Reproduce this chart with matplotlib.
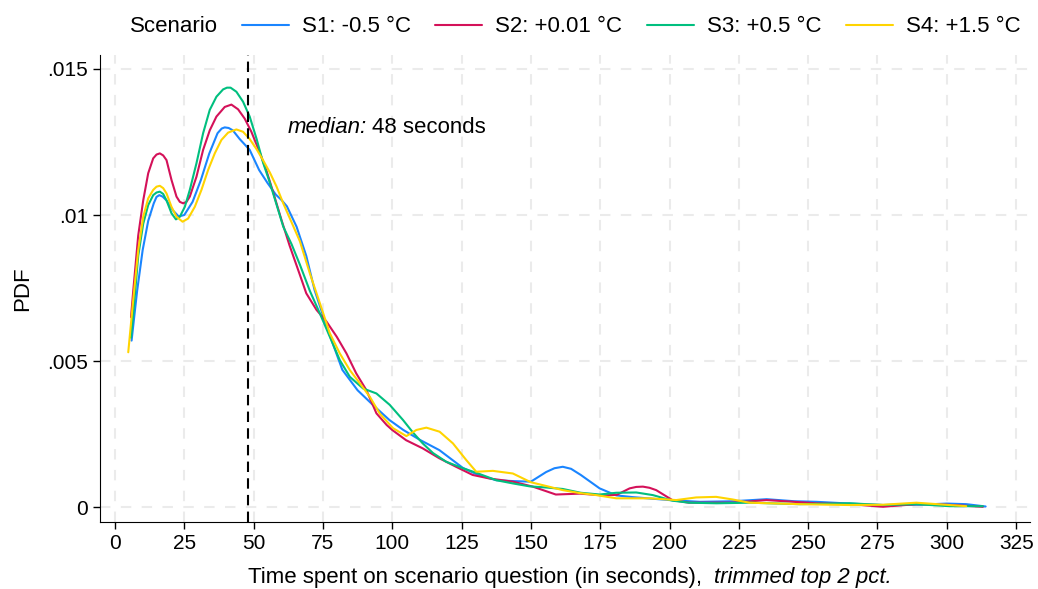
import matplotlib
matplotlib.use("Agg")
import matplotlib.pyplot as plt
from matplotlib.transforms import offset_copy

plt.rcParams["font.family"] = ["Liberation Sans", "DejaVu Sans"]

# =========================
# DATA
# =========================
s1_x = [6, 8, 10, 12, 14, 15, 16, 17.2, 18.6, 21, 23, 25, 28, 31, 34, 37, 38.5, 39.6,
        41, 42.5, 45, 48.6, 52, 55, 58, 60, 62, 65.5, 69, 72, 76.8, 82, 87.5, 93, 99,
        104, 110, 117, 125.5, 131, 137.5, 143.5, 150, 155.5, 158.5, 161.5, 164.5, 168,
        174.8, 180.8, 186.8, 200, 211, 223, 235, 245, 253, 265, 277, 290, 300, 307, 314]
s1_y = [0.0057, 0.0074, 0.0088, 0.0098, 0.0104, 0.01062, 0.01068, 0.01063, 0.0105,
        0.01015, 0.00995, 0.0100, 0.01045, 0.0112, 0.0121, 0.0128, 0.01296, 0.0130,
        0.01298, 0.0129, 0.0126, 0.01223, 0.01154, 0.0111, 0.0107, 0.01052, 0.01030,
        0.0096, 0.0086, 0.00743, 0.00606, 0.0047, 0.0040, 0.0035, 0.00298, 0.00264,
        0.0023, 0.00195, 0.00134, 0.0011, 0.00092, 0.00089, 0.00087, 0.0012, 0.00133,
        0.00138, 0.00131, 0.0011, 0.00064, 0.0004, 0.00034, 0.00024, 0.00018, 0.0002,
        0.00027, 0.0002, 0.00018, 0.00012, 0.00007, 0.00008, 0.00012, 0.0001, 0.00002]

s2_x = [5.8, 6.6, 8.4, 10.2, 12, 13.8, 15, 16.2, 17.4, 18.6, 20.4, 22.2, 23.4, 24.6,
        25.8, 27, 29.4, 31.8, 34.2, 36.6, 39.6, 42, 44.4, 46.8, 49.2, 52.2, 54.7, 57,
        60, 63, 66.7, 69, 72.7, 76.3, 80, 83.5, 87, 90.7, 94.3, 98, 100, 105, 111, 117,
        123, 129, 135, 143.5, 150.7, 159, 167.6, 176, 181, 185.6, 188, 190.4, 192.8,
        195.2, 201, 207, 223, 235, 253, 265, 277, 289, 300, 313]
s2_y = [0.0065, 0.0074, 0.0093, 0.0105, 0.01143, 0.01194, 0.01207, 0.01211, 0.01204,
        0.01188, 0.0112, 0.01063, 0.01045, 0.0104, 0.01045, 0.01063, 0.01131, 0.01223,
        0.0129, 0.01337, 0.0137, 0.01378, 0.01362, 0.0133, 0.01285, 0.01215, 0.0115,
        0.0108, 0.00985, 0.00895, 0.00795, 0.00732, 0.00675, 0.00635, 0.00583, 0.00526,
        0.00458, 0.0040, 0.00321, 0.00281, 0.00264, 0.00229, 0.00201, 0.00167, 0.00138,
        0.0011, 0.00098, 0.00087, 0.0007, 0.00043, 0.00046, 0.0004, 0.00042, 0.00064,
        0.00069, 0.0007, 0.00066, 0.00058, 0.00024, 0.00015, 0.00015, 0.00024, 0.00013,
        0.0001, 0.00001, 0.0001, 0.00008, 0.00001]

s3_x = [5.8, 6.6, 8.4, 10.2, 12, 13.8, 15, 16.2, 17.4, 18.6, 20.4, 22, 23.4, 25.2, 27,
        29.4, 31.8, 34.2, 36.6, 39, 40.4, 41.7, 43.8, 46.2, 48.6, 51.1, 53.4, 55.9,
        58.3, 60.7, 63.7, 66.7, 70.3, 73.9, 77.5, 81.1, 84.7, 89.5, 94.3, 99.1, 103.9,
        107.5, 111, 114.7, 119.5, 125.5, 131, 137.5, 143.5, 149.5, 155.6, 161.5, 168,
        174.8, 180.8, 188, 194, 201, 207, 217, 229, 247, 265, 277, 289, 301, 313]
s3_y = [0.0058, 0.0066, 0.0086, 0.0097, 0.01034, 0.01068, 0.01077, 0.0108, 0.01072,
        0.0105, 0.01006, 0.00985, 0.00994, 0.01028, 0.01086, 0.01177, 0.0128, 0.0136,
        0.01405, 0.0143, 0.01436, 0.01436, 0.01422, 0.01388, 0.01337, 0.0126, 0.0118,
        0.0111, 0.01035, 0.0096, 0.0090, 0.0083, 0.0074, 0.00663, 0.00583, 0.00503,
        0.00446, 0.00406, 0.00389, 0.0035, 0.00298, 0.00255, 0.00218, 0.00185, 0.00155,
        0.00133, 0.00115, 0.00092, 0.00081, 0.00071, 0.00067, 0.00062, 0.00049, 0.00043,
        0.00049, 0.0005, 0.00041, 0.00022, 0.00015, 0.00013, 0.00015, 0.0001, 0.00013,
        0.00007, 0.0001, 0.00003, 0.00003]

s4_x = [4.8, 6.6, 8.4, 10.2, 12, 13.8, 15, 16.2, 17.4, 18.6, 20.4, 22.2, 24.4, 26.4,
        28.8, 31.2, 33.6, 36, 38.4, 40.8, 43.8, 46.2, 48.6, 51.1, 53.4, 55.9, 58.3,
        60.7, 63.7, 66.7, 70.3, 73.9, 77.5, 81.1, 84.7, 88.3, 91.9, 95.5, 100.3, 105.1,
        108.7, 112.3, 117.1, 121.9, 126.7, 130.3, 136.3, 143.5, 150, 155.6, 161.5,
        167.6, 173.6, 180.8, 192.8, 202.4, 209.6, 216.8, 222.8, 228.8, 246.8, 264.8,
        277, 289, 301, 307]
s4_y = [0.0053, 0.0071, 0.0088, 0.00994, 0.01057, 0.01086, 0.01097, 0.011, 0.01092,
        0.01074, 0.01028, 0.00994, 0.00977, 0.00988, 0.01028, 0.01086, 0.01154, 0.01211,
        0.01257, 0.01282, 0.01293, 0.01285, 0.0126, 0.01225, 0.01188, 0.01145, 0.01097,
        0.0104, 0.00975, 0.0091, 0.0080, 0.00698, 0.00595, 0.00526, 0.00469, 0.00424,
        0.00378, 0.0032, 0.0027, 0.00243, 0.00264, 0.00272, 0.00258, 0.00218, 0.00161,
        0.00121, 0.00124, 0.00115, 0.00085, 0.00072, 0.00058, 0.00048, 0.00041, 0.0003,
        0.0003, 0.00024, 0.00033, 0.00035, 0.00026, 0.00015, 0.0001, 0.00007, 0.00008,
        0.00015, 0.00007, 0.00003]

labels = ["S1: -0.5 °C", "S2: +0.01 °C", "S3: +0.5 °C", "S4: +1.5 °C"]
colors = ["#1a85ff", "#d41159", "#00bf7f", "#ffd400"]
median_val = 48

x_ticks = list(range(0, 326, 25))
y_ticks = [0, 0.005, 0.01, 0.015]
y_ticklabels = ["0", ".005", ".01", ".015"]

# =========================
# PLOT
# =========================
fig = plt.figure(figsize=(10.38, 5.89), dpi=100)
ax = fig.add_axes([0.0963, 0.1138, 0.896, 0.7929])

series = [(s1_x, s1_y), (s2_x, s2_y), (s3_x, s3_y), (s4_x, s4_y)]
handles = []
for (xs, ys), lab, col in zip(series, labels, colors):
    ln, = ax.plot(xs, ys, color=col, lw=1.5, label=lab,
                  solid_joinstyle="round", solid_capstyle="round")
    handles.append(ln)

ax.axvline(median_val, color="black", lw=1.5, ls=(0, (5, 3)), zorder=5)

# "median:" in italics, then the value right after it
t1 = ax.text(62.3, 0.01298, "median:", style="italic", fontsize=16, va="center")
fig.canvas.draw()
w_px = t1.get_window_extent().width
tr = offset_copy(ax.transData, fig=fig, x=w_px + 5, y=0, units="dots")
ax.text(62.3, 0.01298, "48 seconds", fontsize=16, va="center", transform=tr)

ax.set_xlim(-5.4, 330)
ax.set_ylim(-0.00051, 0.01548)
ax.set_xticks(x_ticks)
ax.set_yticks(y_ticks)
ax.set_yticklabels(y_ticklabels)
ax.tick_params(labelsize=15, length=5, width=1, direction="out")

ax.grid(True, color="#ebebeb", lw=1.5, ls=(0, (5, 5)))
ax.set_axisbelow(True)
for side in ["top", "right"]:
    ax.spines[side].set_visible(False)

ax.set_ylabel("PDF", fontsize=16, labelpad=10)

fig.text(702 / 1038, 1 - 578 / 589, "Time spent on scenario question (in seconds),",
         ha="right", va="center", fontsize=16)
fig.text(714 / 1038, 1 - 578 / 589, "trimmed top 2 pct.", style="italic",
         ha="left", va="center", fontsize=16)

# legend across the top
fig.text(130 / 1038, 1 - 27 / 589, "Scenario", ha="left", va="center", fontsize=16)
fig.legend(handles=handles, labels=labels, ncol=4, frameon=False,
           loc="center left", bbox_to_anchor=(242 / 1038, 1 - 27 / 589),
           fontsize=16, handlelength=2.1, handletextpad=0.6,
           columnspacing=1.1, borderpad=0, borderaxespad=0)

fig.savefig("out.png", dpi=100)
